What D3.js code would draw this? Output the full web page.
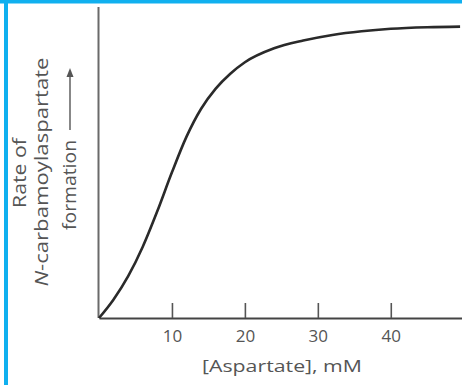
<!DOCTYPE html>
<html>
<head>
<meta charset="utf-8">
<script src="https://cdn.jsdelivr.net/npm/d3@7"></script>
<style>
  html, body { margin: 0; padding: 0; background: #fff; }
  svg { display: block; }
</style>
</head>
<body>
<div id="chart"></div>
<script>
// aspartate concentration (mM) and rate of N-carbamoylaspartate formation (relative units)
const aspartate = [0, 2, 4, 6, 8, 10, 12, 14, 16, 18, 20, 24, 28, 32, 36, 40, 45, 49.5];
const rate = [0, 6, 13.5, 23, 34.5, 47, 58.5, 67.5, 74, 78.8, 82.5, 87, 89.5, 91.3, 92.5, 93.3, 93.8, 94];
const xTicks = [10, 20, 30, 40];
const xLabel = "[Aspartate], mM";
const yLabelLines = ["Rate of", "N-carbamoylaspartate", "formation"];

const width = 462, height = 385;
const font = "'Open Sans', 'Noto Sans', sans-serif";

const svg = d3.select("#chart").append("svg")
  .attr("width", width)
  .attr("height", height);

// blue frame of the figure
svg.append("rect").attr("x", 0).attr("y", 0).attr("width", width).attr("height", 3.5).attr("fill", "#10b0ef");
svg.append("rect").attr("x", 4).attr("y", 0).attr("width", 4).attr("height", height).attr("fill", "#10b0ef");

const x = d3.scaleLinear().domain([0, 49.9]).range([99, 463]);
const y = d3.scaleLinear().domain([0, 100]).range([318, 8]);

// y axis (plain line, no ticks)
svg.append("line")
  .attr("x1", x(0) - 0.5).attr("x2", x(0) - 0.5)
  .attr("y1", 7).attr("y2", y(0))
  .attr("stroke", "#6a6a6a").attr("stroke-width", 2);

// x axis, ticks pointing up
const xAxis = svg.append("g")
  .attr("transform", "translate(0," + y(0) + ")")
  .call(d3.axisBottom(x).tickValues(xTicks).tickSize(-15).tickSizeOuter(0).tickPadding(12));

xAxis.select(".domain").attr("stroke", "#444").attr("stroke-width", 2);
xAxis.selectAll(".tick line").attr("stroke", "#555").attr("stroke-width", 1.6);
xAxis.selectAll(".tick text")
  .attr("fill", "#555")
  .attr("font-family", font)
  .attr("font-size", "17px");

svg.append("text")
  .attr("x", 282).attr("y", 372)
  .attr("text-anchor", "middle")
  .attr("font-family", font)
  .attr("font-size", "17px")
  .attr("fill", "#555")
  .attr("textLength", 160)
  .attr("lengthAdjust", "spacingAndGlyphs")
  .text(xLabel);

// y label, three rotated lines
const yLab = [
  { bx: 26, cy: 173, len: 70 },
  { bx: 48, cy: 172, len: 229 },
  { bx: 76, cy: 185, len: 90 }
];
yLabelLines.forEach((t, i) => {
  const p = yLab[i];
  const txt = svg.append("text")
    .attr("transform", "translate(" + p.bx + "," + p.cy + ") rotate(-90)")
    .attr("text-anchor", "middle")
    .attr("font-family", font)
    .attr("font-size", "18px")
    .attr("fill", "#555")
    .attr("textLength", p.len)
    .attr("lengthAdjust", "spacingAndGlyphs");
  if (i === 1) {
    txt.append("tspan").attr("font-style", "italic").text("N");
    txt.append("tspan").text(t.slice(1));
  } else {
    txt.text(t);
  }
});

// arrow after "formation"
svg.append("line")
  .attr("x1", 70).attr("x2", 70)
  .attr("y1", 130).attr("y2", 74)
  .attr("stroke", "#555").attr("stroke-width", 1.4);
svg.append("path")
  .attr("d", "M70,68 L66.5,77 L73.5,77 Z")
  .attr("fill", "#555");

// saturation curve
const line = d3.line()
  .x((d, i) => x(aspartate[i]))
  .y(d => y(d))
  .curve(d3.curveMonotoneX);

svg.append("path")
  .datum(rate)
  .attr("d", line)
  .attr("fill", "none")
  .attr("stroke", "#2a2a2a")
  .attr("stroke-width", 2.6);
</script>
</body>
</html>
